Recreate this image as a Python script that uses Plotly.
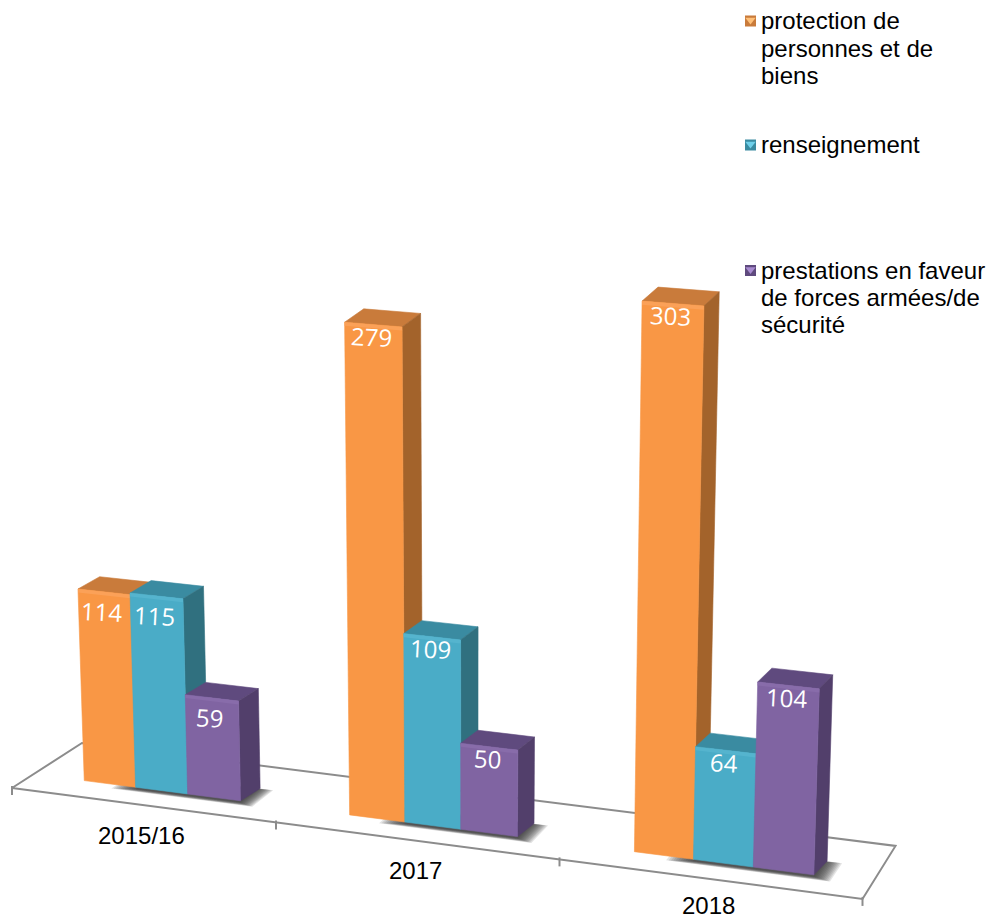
import plotly.graph_objects as go

categories = ["2015/16", "2017", "2018"]
protection = [114, 279, 303]
renseignement = [115, 109, 64]
prestations = [59, 50, 104]
series_names = ["protection de personnes et de biens", "renseignement",
                "prestations en faveur de forces armées/de sécurité"]
legend_lines = [["protection de", "personnes et de", "biens"],
                ["renseignement"],
                ["prestations en faveur", "de forces armées/de", "sécurité"]]

FRONT = ["#F99745", "#4AACC7", "#8064A2"]
TOP = ["#C97B3B", "#3A8BA1", "#5F4A7E"]
SIDE = ["#A3632B", "#30707F", "#523F6B"]
RIM = ["#FBA158", "#55B4CE", "#886CAA"]
SWATCH = ["#FFC078", "#6FD0EA", "#A88BD0"]
AXIS = "#8C8C8C"

BAR_U, BAR_V0, BAR_V1, BAR_SKEW = 0.2, 0.31, 0.58, 0.012
CATEGORY_LABEL_DROP = [31, 30, 27]
VALUE_LABEL_DROP = [20, 12, 12]


def project(u, v, h=0.0):
    """Perspective-like map: floor position (u, v) and value h to the plot axes."""
    x0 = 12 + 254.25 * u + 9.75 * u * u
    y0 = 788 + 0.1304 * (x0 - 12)
    t = (x0 - 12) / 851
    x = x0 + v * (70 - 37 * t)
    y = y0 + v * (-45 - 8 * t)
    height = (1.65 + 0.00015 * (x - 80)) * h * (1 + 0.00016 * h)
    return x + (x - 470) * 0.0000848 * height, y - height


def polygon(points, color, name, line=0.6):
    xs = [p[0] for p in points] + [points[0][0]]
    ys = [p[1] for p in points] + [points[0][1]]
    return go.Scatter(x=xs, y=ys, mode="lines", fill="toself", fillcolor=color, name=name,
                      line=dict(color=color, width=line), hoverinfo="skip", showlegend=False)


fig = go.Figure()

# floor frame and ticks
frame = [project(0, 0), project(3, 0), project(3, 1), project(0, 1), project(0, 0)]
fig.add_trace(go.Scatter(x=[p[0] for p in frame], y=[p[1] for p in frame], mode="lines",
                         line=dict(color=AXIS, width=2), showlegend=False, hoverinfo="skip"))
for i in range(len(categories) + 1):
    p = project(i, 0)
    fig.add_trace(go.Scatter(x=[p[0], p[0]], y=[p[1] - 2, p[1] + 7], mode="lines",
                             line=dict(color=AXIS, width=2), showlegend=False, hoverinfo="skip"))

# soft shadows on the floor
for i in range(len(categories)):
    for step in range(12):
        grow = 0.062 - 0.005 * step
        a, b = i + 0.42 - grow * 1.5, i * 1.004 + 0.8 + grow
        v0, v1 = 0.285 - grow * 0.9, 0.56 + grow * 0.3
        fig.add_trace(polygon([project(a, v0), project(b, v0), project(b, v1), project(a, v1)],
                              "rgba(50,50,50,0.13)", "shadow", line=0))

# bars
for c in range(len(categories)):
    for s, values in enumerate([protection, renseignement, prestations]):
        val = values[c]
        u0 = c * 1.004 + BAR_U * (s + 1)
        u1 = u0 + BAR_U
        fig.add_trace(polygon([project(u0, BAR_V0, val), project(u1, BAR_V0, val),
                               project(u1 + BAR_SKEW, BAR_V1, val), project(u0 + BAR_SKEW, BAR_V1, val)],
                              TOP[s], series_names[s]))
        fig.add_trace(polygon([project(u1, BAR_V0, 0), project(u1 + BAR_SKEW, BAR_V1, 0),
                               project(u1 + BAR_SKEW, BAR_V1, val), project(u1, BAR_V0, val)],
                              SIDE[s], series_names[s]))
        fig.add_trace(polygon([project(u0, BAR_V0, 0), project(u1, BAR_V0, 0),
                               project(u1, BAR_V0, val), project(u0, BAR_V0, val)],
                              FRONT[s], series_names[s]))
        rim = val - 2
        fig.add_trace(polygon([project(u0, BAR_V0, rim), project(u1, BAR_V0, rim),
                               project(u1, BAR_V0, val), project(u0, BAR_V0, val)],
                              RIM[s], series_names[s], line=0))
        lx, ly = project(u0 + BAR_U / 2, BAR_V0, val)
        fig.add_annotation(x=lx - 2, y=ly + VALUE_LABEL_DROP[c], text=str(val), showarrow=False,
                           textangle=3, font=dict(family="Open Sans", size=24, color="white"))

# category labels
for i, cat in enumerate(categories):
    lx, ly = project(i + 0.5, 0)
    fig.add_annotation(x=lx, y=ly + CATEGORY_LABEL_DROP[i], text=cat, showarrow=False,
                       font=dict(family="Liberation Sans", size=24, color="#000000"))

# legend
line_rows = [[20.5, 48.5, 75.5], [144.5], [270, 297, 324.5]]
for s, (lines, rows) in enumerate(zip(legend_lines, line_rows)):
    fig.add_trace(go.Scatter(x=[750.5], y=[rows[0] + 0.5], mode="markers", name=series_names[s],
                             marker=dict(symbol="square", size=11, color=TOP[s]),
                             showlegend=False, hoverinfo="skip"))
    fig.add_trace(go.Scatter(x=[750.5], y=[rows[0] - 0.5], mode="markers", name=series_names[s],
                             marker=dict(symbol="triangle-down", size=9, color=SWATCH[s]),
                             showlegend=False, hoverinfo="skip"))
    for line, row in zip(lines, rows):
        fig.add_annotation(x=759, y=row, text=line, showarrow=False, xanchor="left",
                           font=dict(family="Liberation Sans", size=24, color="#000000"))

fig.update_layout(width=987, height=920, margin=dict(l=0, r=0, t=0, b=0),
                  paper_bgcolor="white", plot_bgcolor="white", showlegend=False,
                  xaxis=dict(range=[0, 987], visible=False, fixedrange=True),
                  yaxis=dict(range=[920, 0], visible=False, fixedrange=True))
fig.write_html("out.html", config=dict(displayModeBar=False),
               post_script="document.body.style.margin='0';")
